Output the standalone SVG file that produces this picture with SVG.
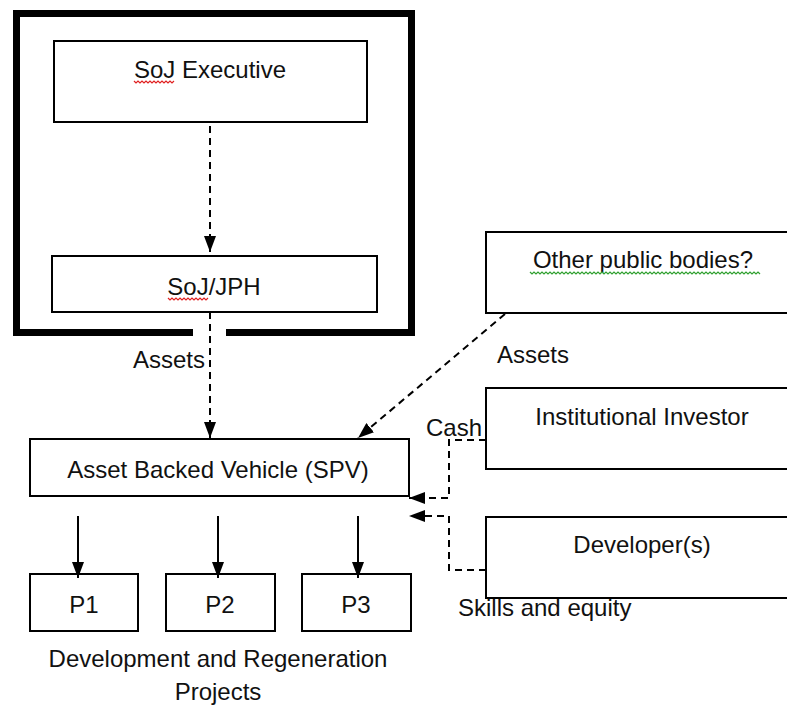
<svg xmlns="http://www.w3.org/2000/svg" width="787" height="706" viewBox="0 0 787 706">
<style>
.box{fill:#fff;stroke:#000;stroke-width:2}
.t{font-family:"Liberation Sans",Arial,sans-serif;font-size:24px;fill:#111}
.m{text-anchor:middle}
.d{fill:none;stroke:#000;stroke-width:2;stroke-dasharray:7,5}
.s{fill:none;stroke:#000;stroke-width:2}
.sq{fill:none;stroke-width:1.2}
</style>
<defs>
<marker id="ah" viewBox="0 0 16 12" refX="16" refY="6" markerWidth="16" markerHeight="12" markerUnits="userSpaceOnUse" orient="auto">
<path d="M0,0 L16,6 L0,12 Z" fill="#000"/>
</marker>
</defs>
<rect width="787" height="706" fill="#fff"/>
<g id="frame">
<path d="M193,332.5 H16.5 V13.5 H411.5 V332.5 H226" fill="none" stroke="#000" stroke-width="7" stroke-linejoin="miter"/>
</g>
<g id="soj-exec">
<rect class="box" x="54" y="41" width="313" height="81"/>
<text class="t m" x="210" y="78">SoJ Executive</text>
<path class="sq" stroke="#e02020" d="M134,81 l2,2 l2,-2 l2,2 l2,-2 l2,2 l2,-2 l2,2 l2,-2 l2,2 l2,-2 l2,2 l2,-2 l2,2 l2,-2 l2,2 l2,-2 l2,2 l2,-2 l2,2 l2,-2"/>
</g>
<g id="soj-jph">
<rect class="box" x="52" y="256" width="325" height="56"/>
<text class="t m" x="214" y="295">SoJ/JPH</text>
<path class="sq" stroke="#e02020" d="M168,298 l2,2 l2,-2 l2,2 l2,-2 l2,2 l2,-2 l2,2 l2,-2 l2,2 l2,-2 l2,2 l2,-2 l2,2 l2,-2 l2,2 l2,-2 l2,2 l2,-2 l2,2 l2,-2"/>
</g>
<g id="other-public">
<rect class="box" x="486" y="232" width="320" height="81"/>
<text class="t m" x="643" y="268">Other public bodies?</text>
<path class="sq" stroke="#30a030" d="M530,272 l2,2 l2,-2 l2,2 l2,-2 l2,2 l2,-2 l2,2 l2,-2 l2,2 l2,-2 l2,2 l2,-2 l2,2 l2,-2 l2,2 l2,-2 l2,2 l2,-2 l2,2 l2,-2 l2,2 l2,-2 l2,2 l2,-2 l2,2 l2,-2 l2,2 l2,-2 l2,2 l2,-2 l2,2 l2,-2 l2,2 l2,-2 l2,2 l2,-2 l2,2 l2,-2 l2,2 l2,-2 l2,2 l2,-2 l2,2 l2,-2 l2,2 l2,-2 l2,2 l2,-2 l2,2 l2,-2 l2,2 l2,-2 l2,2 l2,-2 l2,2 l2,-2 l2,2 l2,-2 l2,2 l2,-2 l2,2 l2,-2 l2,2 l2,-2 l2,2 l2,-2 l2,2 l2,-2 l2,2 l2,-2 l2,2 l2,-2 l2,2 l2,-2 l2,2 l2,-2 l2,2 l2,-2 l2,2 l2,-2 l2,2 l2,-2 l2,2 l2,-2 l2,2 l2,-2 l2,2 l2,-2 l2,2 l2,-2 l2,2 l2,-2 l2,2 l2,-2 l2,2 l2,-2 l2,2 l2,-2 l2,2 l2,-2 l2,2 l2,-2 l2,2 l2,-2 l2,2 l2,-2 l2,2 l2,-2 l2,2 l2,-2 l2,2 l2,-2 l2,2 l2,-2 l2,2"/>
</g>
<g id="institutional-investor">
<rect class="box" x="486" y="388" width="320" height="81"/>
<text class="t m" x="642" y="425">Institutional Investor</text>
</g>
<g id="developers">
<rect class="box" x="486" y="517" width="320" height="81"/>
<text class="t m" x="642" y="553">Developer(s)</text>
</g>
<g id="spv">
<rect class="box" x="30" y="439" width="379" height="57"/>
<text class="t m" x="218" y="478">Asset Backed Vehicle (SPV)</text>
</g>
<g id="p1">
<rect class="box" x="30" y="574" width="108" height="57"/>
<text class="t m" x="84" y="613">P1</text>
</g>
<g id="p2">
<rect class="box" x="166" y="574" width="109" height="57"/>
<text class="t m" x="220" y="613">P2</text>
</g>
<g id="p3">
<rect class="box" x="302" y="574" width="109" height="57"/>
<text class="t m" x="356" y="613">P3</text>
</g>
<g id="connectors">
<line class="d" x1="210" y1="126" x2="210" y2="252" marker-end="url(#ah)"/>
<line class="d" x1="210" y1="312" x2="210" y2="438" marker-end="url(#ah)"/>
<line class="d" x1="505" y1="314" x2="358" y2="438" marker-end="url(#ah)"/>
<polyline class="d" points="486,440 449,440 449,498 409,498" marker-end="url(#ah)"/>
<polyline class="d" points="486,570 449,570 449,516 409,516" marker-end="url(#ah)"/>
<line class="s" x1="78" y1="516" x2="78" y2="578" marker-end="url(#ah)"/>
<line class="s" x1="218" y1="516" x2="218" y2="578" marker-end="url(#ah)"/>
<line class="s" x1="358" y1="516" x2="358" y2="578" marker-end="url(#ah)"/>
</g>
<g id="labels">
<text class="t" x="133" y="368">Assets</text>
<text class="t" x="497" y="363">Assets</text>
<text class="t" x="426" y="436">Cash</text>
<text class="t" x="458" y="616">Skills and equity</text>
<text class="t m" x="218" y="667">Development and Regeneration</text>
<text class="t m" x="218" y="700">Projects</text>
</g>
</svg>
